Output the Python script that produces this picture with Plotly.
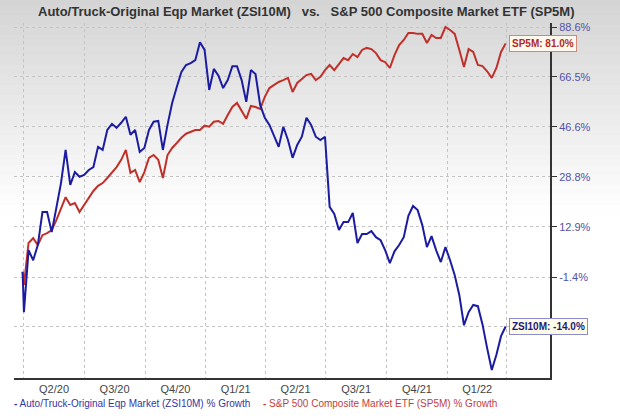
import numpy as np
import pandas as pd
import plotly.graph_objects as go

# ---------------- data ----------------
dates = ["2020-03-30"] + [str(d.date()) for d in pd.date_range("2020-04-01", periods=105, freq="7D")]

zsi10m = [
    0.0, -10.5, 6.0, 3.2, 7.5, 17.4, 17.4, 11.3, 18.7, 26.7,
    38.1, 26.1, 30.4, 28.8, 29.4, 31.1, 32.1, 39.2, 38.1, 45.4,
    47.7, 46.2, 48.1, 50.4, 43.6, 45.4, 37.4, 38.8, 45.4, 48.5,
    48.8, 38.1, 47.3, 55.8, 62.2, 68.5, 71.5, 72.3, 73.6, 81.6,
    78.1, 61.0, 69.8, 66.9, 61.8, 65.1, 71.0, 71.0, 65.1, 56.2,
    69.3, 67.6, 55.0, 50.0, 47.3, 43.2, 39.2, 46.6, 41.7, 35.3,
    39.9, 42.9, 50.0, 47.3, 42.9, 41.7, 42.9, 19.0, 16.8, 11.9,
    14.3, 14.3, 17.1, 8.1, 10.7, 10.7, 11.6, 9.8, 8.9, 6.0,
    2.4, 5.7, 7.5, 9.8, 16.2, 19.3, 18.0, 13.4, 6.9, 10.1,
    6.0, 2.7, 6.9, 3.2, -0.9, -6.2, -13.7, -10.5, -8.7, -9.0,
    -13.5, -19.1, -24.0, -20.6, -16.3, -14.0,
]

sp5m = [
    0.0, -3.5, 8.1, 9.5, 7.5, 10.4, 11.0, 11.9, 14.9, 18.4,
    22.1, 19.6, 20.2, 17.4, 19.6, 21.5, 24.1, 25.8, 26.7, 28.4,
    30.4, 32.1, 34.6, 38.1, 30.1, 31.1, 27.0, 30.4, 35.3, 36.3,
    34.6, 28.4, 36.3, 38.8, 40.6, 42.5, 44.0, 44.6, 45.4, 45.4,
    47.0, 46.6, 48.5, 48.8, 47.7, 51.1, 54.2, 55.8, 52.7, 49.6,
    54.6, 54.2, 53.4, 58.2, 61.8, 63.0, 64.3, 65.1, 66.0, 60.2,
    63.9, 65.5, 67.2, 67.7, 65.1, 66.5, 69.3, 71.5, 69.3, 71.9,
    74.5, 73.6, 76.3, 74.9, 78.1, 79.0, 78.5, 76.7, 73.6, 72.7,
    70.2, 75.8, 80.3, 82.6, 85.8, 85.8, 85.4, 85.4, 81.2, 84.9,
    83.5, 83.5, 88.6, 87.2, 85.4, 78.1, 70.6, 78.5, 77.2, 71.5,
    71.0, 68.8, 66.0, 70.2, 77.2, 81.0,
]

y_ticks = [88.6, 66.5, 46.6, 28.8, 12.9, -1.4, -14.0]
y_tick_text = ["88.6%", "66.5%", "46.6%", "28.8%", "12.9%", "-1.4%", ""]

quarter_labels = ["Q2/20", "Q3/20", "Q4/20", "Q1/21", "Q2/21", "Q3/21", "Q4/21", "Q1/22"]
quarter_starts = ["2020-04-01", "2020-07-01", "2020-10-01", "2021-01-01",
                  "2021-04-01", "2021-07-01", "2021-10-01", "2022-01-01", "2022-04-01"]

name_zsi = "Auto/Truck-Original Eqp Market (ZSI10M) % Growth"
name_sp = "S&P 500 Composite Market ETF (SP5M) % Growth"
tag_zsi = "ZSI10M"
tag_sp = "SP5M"

# ---------------- scale ----------------
OFFSET = 122.0  # axis is logarithmic in (growth + OFFSET)
BLUE = "#1c1ca0"
RED = "#c0302a"
FONT = "Arial, Liberation Sans, sans-serif"

q_start = pd.to_datetime(quarter_starts)
quarter_mids = [q_start[i] + (q_start[i + 1] - q_start[i]) / 2 for i in range(len(quarter_labels))]

W, H = 620, 418
ML, MR, MT, MB = 14, 70, 23, 40
PW, PH = W - ML - MR, H - MT - MB


def px_y(p):
    return (H - MB - p) / PH


def px_x(p):
    return (p - ML) / PW


fig = go.Figure()
fig.add_trace(go.Scatter(x=dates, y=np.array(sp5m) + OFFSET, mode="lines",
                         line=dict(color=RED, width=2), name=name_sp, showlegend=False))
fig.add_trace(go.Scatter(x=dates, y=np.array(zsi10m) + OFFSET, mode="lines",
                         line=dict(color=BLUE, width=2), name=name_zsi, showlegend=False))

# background gradient (grey at top fading to white)
shapes = []
n_bands = 44
band = 5
for i in range(n_bands):
    p0 = i * band
    p1 = p0 + band
    t = min(1.0, (p0 + band / 2) / 215.0)
    g = int(round(212 + (255 - 212) * t))
    shapes.append(dict(type="rect", xref="paper", yref="paper",
                       x0=px_x(0), x1=px_x(W), y0=px_y(p1), y1=px_y(p0),
                       fillcolor=f"rgb({g},{g},{g})", line=dict(width=0), layer="below"))

annotations = [
    dict(text=f"<b>{tag_zsi}: {zsi10m[-1]:.1f}%</b>",
         x=dates[-1], y=np.log10(zsi10m[-1] + OFFSET), xref="x", yref="y",
         xanchor="left", yanchor="middle", xshift=3, showarrow=False,
         font=dict(family=FONT, size=10, color="#1a1a80"),
         bgcolor="#fffbe8", bordercolor="#8c8cc8", borderwidth=1, borderpad=2),
    dict(text=f"<b>{tag_sp}: {sp5m[-1]:.1f}%</b>",
         x=dates[-1], y=np.log10(sp5m[-1] + OFFSET), xref="x", yref="y",
         xanchor="left", yanchor="middle", xshift=3, showarrow=False,
         font=dict(family=FONT, size=10, color="#b02a22"),
         bgcolor="#fff8ee", bordercolor="#d08878", borderwidth=1, borderpad=2),
    dict(text="<b>Auto/Truck-Original Eqp Market (ZSI10M)</b>&nbsp;&nbsp;&nbsp;<b>vs.</b>&nbsp;&nbsp;&nbsp;<b>S&P 500 Composite Market ETF (SP5M)</b>",
         x=px_x(306), y=px_y(11), xref="paper", yref="paper", xanchor="center", yanchor="middle",
         showarrow=False, font=dict(family=FONT, size=13, color="#333333")),
    dict(text="<b>-</b> " + name_zsi, x=px_x(12), y=px_y(404), xref="paper", yref="paper",
         xanchor="left", yanchor="middle", showarrow=False,
         font=dict(family=FONT, size=10, color="#3535a5")),
    dict(text="<b>-</b> " + name_sp, x=px_x(261), y=px_y(404), xref="paper", yref="paper",
         xanchor="left", yanchor="middle", showarrow=False,
         font=dict(family=FONT, size=10, color="#c24040")),
]

step = (np.log10(88.6 + OFFSET) - np.log10(-1.4 + OFFSET)) / 250.0  # log units per pixel
y_hi = np.log10(88.6 + OFFSET) + (27 - MT) * step
y_lo = np.log10(88.6 + OFFSET) - (H - MB - 27) * step

fig.update_layout(
    width=W, height=H,
    margin=dict(l=ML, r=MR, t=MT, b=MB),
    paper_bgcolor="white", plot_bgcolor="rgba(0,0,0,0)",
    shapes=shapes, annotations=annotations, showlegend=False,
    xaxis=dict(
        type="date", range=["2020-03-17", "2022-06-05"],
        tickmode="array", tickvals=quarter_mids, ticktext=quarter_labels,
        ticks="", showgrid=False, zeroline=False,
        showline=True, linecolor="#333333", linewidth=2,
        tickfont=dict(family=FONT, size=11, color="#444444"),
        minor=dict(tickmode="array", tickvals=quarter_starts, showgrid=True,
                   gridcolor="#c4c4c4", gridwidth=1, griddash="dot", ticks=""),
    ),
    yaxis=dict(
        type="log", side="right", range=[y_lo, y_hi],
        tickmode="array", tickvals=[v + OFFSET for v in y_ticks], ticktext=y_tick_text,
        ticks="outside", ticklen=5, tickcolor="#333333", tickwidth=1,
        showgrid=True, gridcolor="#c4c4c4", gridwidth=1, griddash="dot",
        zeroline=False, showline=True, linecolor="#333333", linewidth=2,
        tickfont=dict(family=FONT, size=11, color="#5252a8"),
    ),
)

fig.write_html("out.html", config={"displayModeBar": False},
               post_script="document.body.style.margin='0px';")
